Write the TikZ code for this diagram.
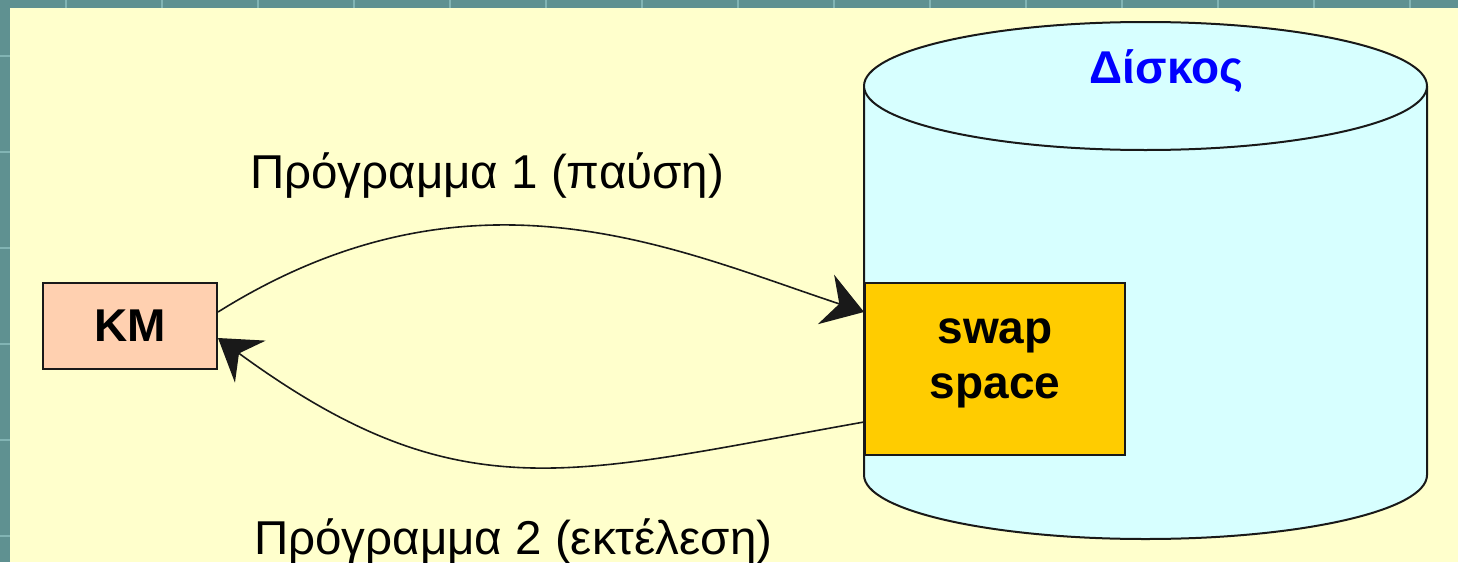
\documentclass[tikz,border=0pt]{standalone}
\usepackage{fontspec}
\setmainfont{Liberation Sans}
\usetikzlibrary{arrows.meta}
\definecolor{frame}{RGB}{95,145,145}
\definecolor{framemark}{RGB}{130,180,180}
\definecolor{panel}{RGB}{255,255,204}
\definecolor{diskfill}{RGB}{215,255,255}
\definecolor{memfill}{RGB}{255,208,176}
\definecolor{swapfill}{RGB}{255,204,0}
\definecolor{disktext}{RGB}{0,0,255}
\definecolor{ink}{RGB}{25,25,25}

\begin{document}
\begin{tikzpicture}[x=1pt,y=-1pt,
  box/.style={draw=ink,line width=2pt,inner sep=0pt},
  boxtext/.style={font=\fontsize{46}{55}\selectfont\bfseries,inner sep=0pt},
  flow/.style={draw=ink,line width=1.6pt,-{Stealth[length=40pt,width=52pt,inset=14pt]}},
  caption/.style={font=\fontsize{47.5}{57}\selectfont,anchor=base west,inner sep=0pt}]
\useasboundingbox (0,0) rectangle (1458,562);

% slide frame and panel
\fill[frame] (0,0) rectangle (1458,562);
\fill[panel] (10,8) rectangle (1458,562);
\foreach \x in {66,162,...,1458} \draw[framemark,line width=2pt] (\x,0) -- (\x,8);
\foreach \y in {55.5,151.5,...,562} \draw[framemark,line width=2pt] (0,\y) -- (10,\y);

% disk drawn as a cylinder
\filldraw[fill=diskfill,draw=ink,line width=2pt]
  (864,86) -- (864,475)
  arc[start angle=180,end angle=360,x radius=281.5pt,y radius=64pt]
  -- (1427,86);
\filldraw[fill=diskfill,draw=ink,line width=2pt]
  (1145.5,86) ellipse[x radius=281.5pt,y radius=64pt];
\node[boxtext,text=disktext,anchor=base] (disk) at (1166.5,83) {Δίσκος};

% main memory and swap area
\node[box,fill=memfill,minimum width=174pt,minimum height=86pt] (km) at (130,326) {};
\node[boxtext] (kmtext) at (km.center) {KM};
\node[box,fill=swapfill,minimum width=260pt,minimum height=172pt] (swap) at (995,369) {};
\node[boxtext,anchor=base] (swaptop) at (995,343) {swap};
\node[boxtext,anchor=base] (swapbottom) at (995,398) {space};

% transfers between memory and swap
\draw[flow] ([yshift=14pt]km.east) .. controls (472,153) and (676,250) .. ([yshift=57pt]swap.west);
\draw[flow] ([yshift=-53pt]swap.west) .. controls (570.5,474) and (460,515) .. ([yshift=-12pt]km.east);

\node[caption] (out) at (250,188) {Πρόγραμμα 1 (παύση)};
\node[caption] (in) at (254,554) {Πρόγραμμα 2 (εκτέλεση)};
\end{tikzpicture}
\end{document}
